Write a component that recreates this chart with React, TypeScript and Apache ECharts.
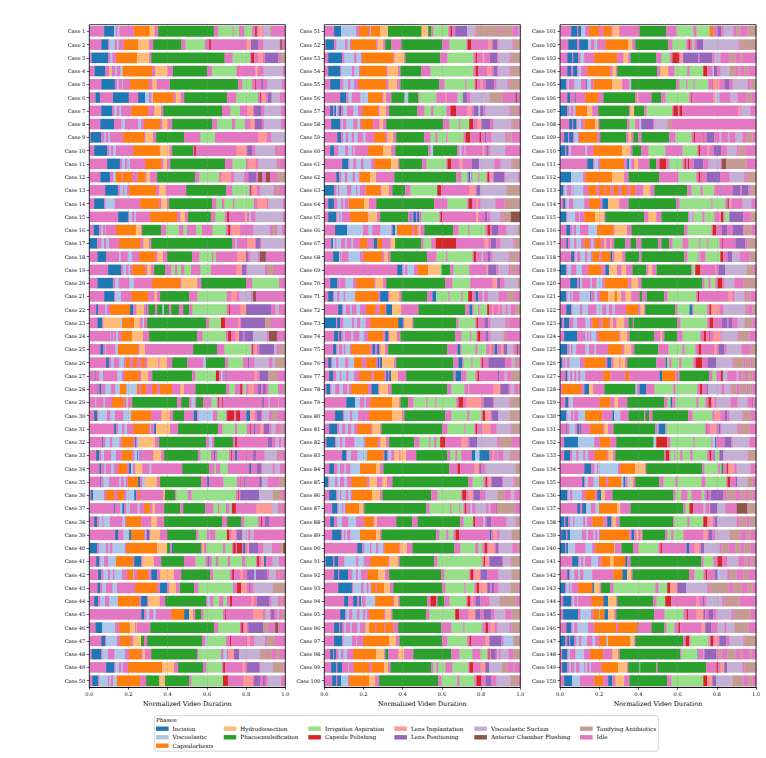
import React, { useEffect, useRef } from "react";
import * as echarts from "echarts";

// Phase codes used in the timeline strings below.
const phaseCodes = ["I", "V", "C", "H", "P", "A", "K", "L", "N", "S", "F", "T", "X"];
const phaseNames = [
  "Incision",
  "Viscoelastic",
  "Capsulorhexis",
  "Hydrodissection",
  "Phacoemulsification",
  "Irrigation Aspiration",
  "Capsule Polishing",
  "Lens Implantation",
  "Lens Positioning",
  "Viscoelastic Suction",
  "Anterior Chamber Flushing",
  "Tonifying Antibiotics",
  "Idle",
];
const phaseColors = [
  "#1f77b4", "#aec7e8", "#ff7f0e", "#ffbb78", "#2ca02c", "#98df8a", "#d62728",
  "#ff9896", "#9467bd", "#c5b0d5", "#8c564b", "#c49c94", "#e377c2",
];

// Each timeline: phase code followed by the phase's end point (% of the video).
const casesA = [
  "X7.5 I12.6 V13.4 X14.3 V15.3 X22.6 C30.8 H33.3 X35 P63.5 X65.6 A73 X73.5 A76.4 X79 A83 X84.5 K85.4 X86 L88.4 X88.8 S92.2 T93.2 X100",
  "X6 I9.5 X10 V13 X14 V15 X17.5 C25 H30.5 X32.5 P47 X49 A59 X61 K62 X80 L82.5 N86 X88.5 S97 X97.3 F98.3 X100",
  "X1 I9.5 X10.5 V11.7 X13.6 C24.3 H30.5 X31.5 P69 X73 A82 X82.5 K84 X86 L88.6 X89.6 N96.3 X97.3 T100",
  "X2.5 I8 X10 H11.5 X13 V14 X15.6 V17 C32 X33.5 H40 X42.5 P60 X62.4 A75 X76 K76.5 X84.7 H85.7 X88.8 S98.8 X100",
  "X6 I13 X14 V15 X16.5 V17 X20.7 C30.4 X32 H34.4 X41 P75.9 X77.9 A83 X84.5 K85 X87.6 N88.6 X90.6 S98.3 X100",
  "X3 I5.4 X12 I20.2 X24.8 I28.4 V30.4 X31.5 V32.5 C43 X44 H46.5 X48.3 P70.2 X74.8 A86 X87 K87.5 X88 L90 X91 N93 S97.3 X100",
  "X6 I11.6 X12.6 V14.1 X15.1 V16.2 X21.3 C30 X33 H36.6 X37.6 P67.7 X71.8 A76.9 X80.4 L83.5 X84 N87.6 X89.1 S97.8 X100",
  "X5.5 I12.6 X16.2 V18.2 X24.8 V26.4 X27.9 C36 X37 H40 X42.2 P62.6 X65 A72.8 X74.3 A79.4 X82 L84.5 N88 X89 S97.8 X100",
  "X0.5 I6 X7.5 V8.5 X9.5 V10.5 X17.2 C27.9 X28.4 H32.5 X34 P48.3 X56.5 A64.1 X86 L90.6 X92.7 S100",
  "X2.4 I9 X10 V11 X12 V13.6 X22.3 C36 H41 X42.2 P52.9 X53.4 K54.4 X74.8 L80 X80.5 N83 X84.5 S94.7 X96.3 T97.3 X100",
  "X9 I15.6 X16.6 V18.2 X19.2 V20.7 X28.4 C36.6 X37.6 H39.6 X41.2 P69.2 X72.8 A80 X81 L85 X86 S95.7 X96.3 T97.3 X100",
  "X5.5 I10.5 X12 V13.5 C16.5 X17 C21.8 X24.5 C28.6 X29 H31 X34.5 P53.9 X55.9 A66.2 X67.2 L72.3 X73.8 S78.9 X81 N85 X86 F88.1 X90 F92.2 X95.7 T100",
  "X8 I14.6 X15.6 V17.2 X17.7 V19.2 X20.2 C34 X35.5 H39 X49.3 P69.7 X72.8 A81.5 X82 K82.5 X83 L85.5 X87 S94.2 X95.2 T96.8 X100",
  "X2.4 I7.5 X8 V13 X25.9 C35.5 X36.6 H39.6 X40.6 P62.6 X64.6 A67.7 X68.7 A73.3 X73.8 A84 X85.5 L90.6 X91.1 S98.8 X100",
  "X14.6 I19.7 X20.2 V21.8 X22.8 V23.8 X31 C44.7 X46.3 H48.8 X50.3 P62 X64.1 A69.2 X70.2 K71.2 X79.4 H80.4 X81.5 V82.5 X84.5 S98.8 X100",
  "X2 I5 X6 V7 X8 V8.5 X13.6 C23.8 H26.4 X26.9 P36.6 X39 A45.7 X47.8 A49.8 X54.4 A57.5 X62.6 A69.7 X70.7 K71.8 X72.3 L76.9 X83.5 S92.2 X93.2 T95.2 X95.7 S98.3 X100",
  "I4 X6 V7.5 X8.5 V10 X15.1 C25.9 X27.4 H30.4 X31.5 P72.8 X74.3 V75.3 X80.4 L84.5 X84.9 N87 X87.5 S100",
  "X4 I8.5 X15 V16 X19.5 V21.8 X25.3 C33.5 X34.5 H37.6 X39.6 P52.4 X56 A62.6 X63.1 A64.6 X75.3 L79.9 N81 X82 S86 X87 F90 X100",
  "X9.5 I16.2 X17.2 V18.7 X19.7 V20.7 X21.8 C28.4 X29.4 H31.5 X33 P38.6 X41.7 A43.7 X44.7 A46.8 X48.3 A51.9 X56.5 A62 X74.8 L77.9 N80 X80.5 S89.6 X90.6 T94.2 X100",
  "X4 I12 X13 V15 X20.2 V22.8 X32 C46.3 X46.8 H55 X57 P80 X83 A96.8 X100",
  "X7.5 I12.6 X13.1 V16.2 X21.3 C30 X33 H34.5 X36 P50.9 X55 A70.2 X72.3 L75.3 X76.4 S82.5 X83.5 F85 X100",
  "X3.4 I4.4 X8 V9 X10.5 C20.7 I22.3 X23.8 H27.9 X29 I29.4 X30 P33.5 X34.5 P37.1 V38.1 P40.6 X41.7 P45.7 X47.8 P50.9 X52.4 A70.2 X71.2 K71.8 X76.9 L80 N92.7 X94.7 S96.8 X100",
  "X4 I6.5 X7 H15.6 V16.7 C22.8 H25.9 X26.9 V27.9 X29.4 P59.5 X61 A67.2 K69.2 X75.9 L76.9 X77.4 N89.6 T92.7 X100",
  "X10.5 V11 X12 V12.5 X13.5 V14.6 X16.2 C21.8 H27.4 X30.4 P55 X57.5 A69.7 X70.7 K72.3 X74.3 L76.4 N78.4 X79 N83.5 S90.6 X91.6 F95.7 X100",
  "X5.5 I7 X8 V8.5 X13.1 V14.6 C24.8 X25.3 H28.4 X52.9 P65.1 X68.7 A82.5 X83 K83.5 X84 L85.5 X86.6 N94.2 S95.7 X97 T100",
  "X8.5 I10 X11 V12.5 X15.1 V17.6 X18.5 C20.7 X22.3 C24.3 X26.4 C28.4 X29.5 H35.2 X35.7 H39.6 X42.2 P50 X58 V59.5 P69.2 X70.7 A78.4 X81 I81.5 X84 S91.7 X93.2 S94.7 T100",
  "X3 I3.4 X5 V7 X14.1 V16.7 X17.7 C25.3 X26.3 H30 X32 P52.4 X53.9 A64.6 K66.2 X67 V68 X69.5 I70 X84 L85.7 X86.7 N91.2 T96.3 X100",
  "X4 I4.4 X5 I6 X8 V11 X13 V15.6 C18.7 V24.3 C25.3 X26.3 C28.9 X32 C34.5 X36 C42.2 X46.3 H48.3 X54 P69.7 X71.3 A74.3 X76.9 K77.9 X78.5 A80 X81 L84 X86 N87.7 X88.5 N90 X91.3 A96.3 X98.8 T100",
  "X3 V3.5 X7 V8 X11.5 C17.2 X18.2 C18.7 V19.7 X21.8 P44.7 X46.8 P50.9 X51.9 V53.9 X54.4 P58 X62.1 A65.1 X65.6 K66.2 X67.7 K68.2 X88.1 N89.1 X91.2 S92.2 X96.3 S96.8 X100",
  "X2.4 I3.9 X4.4 V9 X10.5 V13.1 X17.2 V21.3 C31.5 X36.6 H41.2 X42.7 P48.3 X53.2 I55 X55.6 V63.1 X65.1 A69.7 X70.2 K73.8 X74.8 K76.9 X80 I82 L84.2 X85.5 N87.6 X88.1 S91.7 X93.2 T96.3 X100",
  "X12.6 I13.6 X14.6 V16.7 X17.7 V19.2 X22.3 C30.4 X31 V31.5 X33 I34 H41.2 X45.2 P65.6 X67.7 A74.3 X75.3 A80.4 X82 K82.5 X84 I84.5 X87 L89 N91.7 X92.7 S95 X96.8 T98.5 X100",
  "X6.5 I7 X8 V10.5 X11.5 V15.3 X16.3 C22.3 X23.3 I23.8 X24.3 V25.3 H33.5 X35.5 P59.5 X61 V62.6 X63.6 P73.3 X74.3 K75.3 X91 N93.2 X94.7 S96.8 X97.8 S99 X100",
  "X3.4 I5 X6 V7.5 X11 V13.6 X16.4 C21.8 X22.8 V24.3 I24.8 V25.3 X26 I26.5 X32.5 H36.6 X38.1 P55.4 X56.5 A62.1 X63.6 I64.1 X65.1 A71.3 X72.3 K72.8 X74.3 I75.3 X83.5 N85 X89.3 S95.7 X96.3 T97.8 X100",
  "X5 I6 X7.5 V8.5 X11 V12.5 X14.6 C19.2 X20.2 I21.3 V22.3 X23.3 H27 X30.6 V31.6 X47.3 P61 X63.6 A64.6 X66.6 A70.7 X81.5 I82.5 X85.5 N87.5 X88 S93.5 X94.5 S97.3 X100",
  "X5.5 I6 X7 V10 X15.1 V16.1 X17.5 V18.5 X19.5 C24.8 I25.8 X26.8 V28.4 H34.5 X36 P57 X60 I61 X68.2 A75.3 X77 K77.5 X79 I79.6 X86.6 N88 S91 X96.8 T100",
  "X0.8 I1.9 V7.5 X8.5 C12.6 X14.1 C17.7 X18.7 V22.8 I23.8 X24.8 C25.8 X37.6 H38.6 P43.7 X44.2 A50.3 X51.9 A74.8 X75.8 K76.2 X76.9 N86.6 S93.7 T98.3 X100",
  "X12.6 I13.1 X15.6 V16.7 I17.7 X18.7 V20.7 X24.5 V25.5 X27.9 C31 X32 H33.5 X38.1 P46.3 X47.8 P59 X63.1 A65.6 X66.1 A69.7 X71.2 A72.2 V72.7 K74.7 X85 L93.2 S96.3 X97.3 T98.3 X100",
  "X2.4 I3.9 X4.9 V6.6 X7 V10.5 X16.7 V18.2 X18.7 C26.4 X31.5 H34.5 X38.1 P67.7 X70.2 P77.4 X78.9 A86 X87.5 K88.1 X89.6 N91.7 X100",
  "X13.1 I14.6 X17.2 V20.2 I21.3 C27.9 X28.4 V28.9 X29.4 I30.4 X31 H36 X39.6 P54.4 X55.4 A60 X61 V61.5 X64.1 A70.2 K71.5 X72.5 L74.5 X75 N78 S81 X82 S84 X100",
  "I3.9 X4.9 V8.5 X9.5 V10.5 X11.6 V18.2 X18.7 C34.5 H39.6 P41.2 X42 I42.7 P57 X57.5 H58.5 X59.5 A68.2 X69.2 A72.8 X73.3 K74.7 X75.2 K77.9 X78.4 I79.4 X80.4 L81.5 N86 X88.5 S93.2 X97.3 T98.8 F100",
  "X3.4 I5 X5.5 V7.5 X9.5 V13.6 C22.3 X22.8 I26.4 X27 H33 X36.6 P48.3 X54 A59.4 X60.4 I60.9 X62.4 A64.6 X65.6 A70.7 X71.7 A77.9 X79.4 A85 X85.5 K86.6 X87.6 L89 I90.1 X93.2 S96.8 X100",
  "X4.4 I6 X7 V9.5 X10.5 V12 X12.6 V16.7 X19.2 C22.3 V22.8 X24.3 C30 X31.5 I34.5 X36 H43.2 X46.8 P61.6 X63 A71.8 X72.8 K73.8 X76.9 L78.4 X80.4 N84 V85 N90.6 X91.6 S95.2 X96.3 T97.3 X100",
  "X4 I5.4 X6.5 V8.5 X11.6 V14.1 X23.3 C34.5 X36 I39.6 X40.6 H44.2 X46 P53.4 X55.4 A73.3 X75.3 K77.4 L80.4 X81.4 N82.2 X83.7 S93.7 T100",
  "X2.4 I4.4 X5.4 V8 X10 V14.6 C25.3 X26.3 I29.4 X30 H36 X38.6 P59.5 X60 V61.5 X63.1 A66.2 X68.2 A70.2 X71.7 K72.8 X82.5 L84 X85.5 N91.7 X92.7 S96.3 X97.3 T98.8 X100",
  "X26.4 I27.9 X29 V30.6 X32.6 V34 X41.7 C48.3 I50.9 H52.9 X53.9 P57 X58 A68.2 X69.2 K69.7 X83.5 L88.6 X89.6 S92.2 X92.7 N94.2 X95.7 S96.8 X98.3 T100",
  "X3 I6.5 V13.1 X15.1 C20.7 H23.3 X23.8 H24.3 X31 P63.6 X65.6 A76.9 X77.4 K78.4 X79 L80.4 X81 N88.6 T91.2 X94.7 F96.3 X100",
  "X6 I8 X8.5 V14.1 X15.6 C21.3 X22.3 H26.4 P27.9 X29.4 P57.5 X59 V60 A69.7 X71.7 K72.3 X80.4 L82 X84 S89.6 X90.1 T94.7 X100",
  "X1 I6 X6.5 V9.5 X12.6 V18.2 X20.2 C26.4 X27 H28.4 X31.5 P54.9 X55.4 A67.2 X68.2 V70.2 X70.7 L73.8 N76.4 S87.1 T90.6 X91.1 T93.2 X95.2 T97.3 X100",
  "X8.5 I12.6 X13.1 V15.1 X16.1 V17.1 X19.7 C37.1 H43.2 X45.2 P58 X59.5 A67.7 X68.2 K69.2 X77.9 L79.4 X80.4 N86.6 X87.1 S93.7 T99.3 X100",
  "X1.4 I4.4 X4.9 V9.5 X10 V11 X12 V14.1 C25.9 X28.9 P35.5 H38.6 P50.9 X51.9 A68.2 K70.7 X78.4 L83.5 X84 N87.1 X88.5 N89.5 X90.8 S97.8 X100",
];

const casesB = [
  "X4.9 I8.5 V16.2 X17.7 C22.8 X23.3 V23.8 C28.4 H32.5 P49.4 H53 P54.5 X55.5 A63.2 X64.2 K65.2 X66.7 N72.9 S77 X77.5 T89.3 X90.3 T95.9 X99 S100",
  "X0.5 I4.9 X6 V10.6 X11.6 V13.1 X13.6 C26.4 X27 H30 X31 P34.1 X39.2 P60.1 X63.7 A72.4 X72.9 K75 X83.6 L85.2 X85.7 N88.2 X88.7 S95.9 X96.4 T100",
  "X1.9 I9 X10 V15.2 X16.2 V18.7 X19 C35.1 X35.6 H40.7 X41.2 P59.1 X62.7 A76 X77 K78 X80.6 L81.6 X84.2 N88.2 X88.7 S94.4 X94.9 T100",
  "X1.9 I8 X8.5 V14.1 X15.1 V17.7 X18.2 C31.5 X32 H37.6 X38.7 P49.4 X54 A76 X77 K78.5 X83.1 L85.2 X86.2 N88.2 X88.7 S94.4 X94.9 T100",
  "X2.9 I8 X9.5 V12.1 X13.1 V15.2 X17.2 C31.5 X32.5 H37.1 X38.7 P58.6 X61.2 A71.9 X72.4 A76.5 X77 K78 X79.5 L80.6 X82.1 N86.7 X87.7 S93.4 X94.4 T100",
  "X8 I11.1 X12.1 V14.1 X18.2 V22.3 C29.5 X30 H31.5 X34.1 P40.7 V42.8 P47.9 X48.4 A57.1 X61.7 L62.5 X67.8 V68.8 A70.7 N72.9 X74.4 S84.2 T90.8 X97.4 F98.5 X100",
  "X2.9 I4.4 X5 I6 V6.8 X7.5 I8.5 X9.5 V11.5 X14.7 V17.2 X19.2 C27.4 X28 H31.5 X33 P47.4 X50.9 A54.5 X55.5 A62.2 X64.2 K67.3 X72.9 L75 X76 N78.5 V79.5 N81.1 X82.1 S94.4 X94.9 T98.5 X100",
  "X3.4 I8 X8.5 V9.5 X11 V14.7 X16.7 V18.2 X18.7 C24.9 X28 H30 X31.5 P60.6 X63.7 A68.8 X69.3 A73.9 K76 X78 L80.1 N84.7 X86.2 S95.4 X96 T99 X100",
  "X6.5 I8.5 X9.5 V11 X12 V14 X15 V17 X19.5 V21 X25.4 C31 X32 H35.1 X36.6 P50.9 X54 A56.6 X57.6 A62.2 X62.7 A70.9 X71.9 K74.4 X79 K80.1 X81.6 N82.6 X85.2 S92.3 X93.3 T95.4 X100",
  "X2.9 I4.9 X7 V10.6 X12 V14 X14.7 V15.5 X22.3 C30 H34.1 X36.1 P53 X54 V55.5 P67.8 X68.8 V70 X71.4 V72 X80.6 L81.6 X82.6 N83.6 X84.5 S92.3 X100",
  "X9 I12.1 X12.6 V14.7 X16.2 V18.7 X19.7 V23.9 X25.4 C34.1 H37.6 X38.1 P49.9 X52 A62.2 X62.7 K64.7 X68.8 L70.4 X75 N79 S86.7 X89.8 S95.4 X95.9 T100",
  "X6 I7.5 X8.5 V10.5 X11.5 V14.5 X15.5 V17.5 X17.8 C23.3 H26.4 X35.6 P67.3 X69.8 A72.9 X73.4 I74.4 V74.9 X75.5 A78.5 X79 A82.6 X83.1 K84.2 X84.7 L85.7 X86.2 N91.8 X92.3 S98.9 X100",
  "I4.9 X6 V7 X7.5 V11.6 X13.6 V16.2 X16.7 V18.2 X21 C28.4 X29 H33 X34.6 P41.2 X43.8 A57.6 K59.6 X73.9 L77 X77.5 N79.6 S92.8 T100",
  "X1.9 I4.9 X6.5 V8.5 X9.5 V10.5 X12.3 C20.3 H22.8 X26.4 P56 X62.7 A72.9 X73.4 K75.5 X77.5 L78.5 X79.5 S87.2 X91.8 T100",
  "X1.9 I6 X6.5 V7.5 X8 V9 X13.1 C22.3 H26.9 X28.4 P42.8 X43.8 I44.3 X45.3 I46.8 X47.3 I48.4 X49.4 A58.6 X59.1 K60.1 X77.5 H78.5 X81.6 N83.1 X84.6 S89.8 X90.8 T94.9 F100",
  "X5.4 I11.6 V19.8 X22.3 V24.4 X28.4 V34.1 X34.6 I36.1 V37.1 C44.8 X45.8 C47.4 X48 H49 X50.9 P65.8 X68.3 A73.4 X73.9 A82.1 X83.1 K84.7 X85.2 N88.8 X92.8 S98.5 T100",
  "X3.4 I4.4 V5.5 X6 V8.5 X10.5 V11.5 X13.6 V14.7 X18.2 C21.8 X25 I26.9 C29.5 X33.6 H36.1 P49.4 X50.4 A54.5 X56.6 K67.3 X81.6 L83.6 X84.7 N87.7 X89.8 S96.4 X96.9 T100",
  "X4.4 I7.5 V8 X8.5 V9 X12.1 V18.2 X19.8 C29.5 X30.5 H32.5 X33.6 P52.5 X57.1 A62.2 X62.7 A75.5 X76 K77.5 X80 V81 X83.1 N84.7 X85.7 S93.9 X94.4 T99 X100",
  "X37.1 I39.7 X40.2 V41.2 X42.2 V45.8 X47.4 C53 H59.1 A59.6 P64.2 X65.8 A73.9 X82.6 L83.6 N87.7 X88.7 S93.9 X94.9 T98 X100",
  "X2.9 I6.5 X7.5 V8 X10.6 V14.7 X16.2 C25.4 X26 H30 X31.5 P61.7 X65.2 A74.4 X85.7 L88.2 N89.8 X91.8 S98.5 T100",
  "X1.9 I4.4 X5 V6.5 X7.5 V9.9 X10.5 V15.7 C27.4 X28.4 I32.5 X33 H38.2 X39.2 P52.5 X55 I57.1 A63.2 X63.7 A69.8 X70.3 A73.4 K75.5 X77 I78.5 X80.5 V81.5 X83.5 S88.8 X93.4 T96.9 X100",
  "X7 I9 X9.5 V11 X13 V14 X16.2 V18.2 X21.3 C26.2 X28 C31 X31.5 I34.6 H39.2 X47.9 P71.9 X73.9 I75.5 X76 A78.5 X79 A83.1 K84.2 X85.4 L86.4 X88.5 L89.5 X90.5 S92.5 X93.5 S95 X97.4 T100",
  "I6 X6.5 I8 X9.5 V14.1 X15.1 V16.7 X18.2 V21 X23.3 C37.6 I40.2 X40.7 H44.8 X45.3 P67.3 X68.3 A77 X77.5 K78.5 X81.6 N83.6 X84.7 S92.3 X93.3 T94.3 X100",
  "X4.9 I7 X7.5 I8.5 X9.5 V10.5 X13.6 V14.7 X17.7 V20.3 X22.3 C30 X31 I32.5 X33 H37.1 X38.7 P66.8 X69.8 A74.4 X74.9 A77.5 X78 K79.6 X82.1 N83.6 X84.7 S91.3 T92.8 X100",
  "X4.4 I6 X6.5 V7.5 X9 V10 X10.6 V13.1 X13.6 C23.3 X24.4 I25.9 X26.9 I27.9 X28.4 H31 X32.5 P62.7 X67.8 I69.3 X69.8 A77 X78 A82.6 X84.2 L85.2 K85.7 X86.7 I88.2 X90 L91.5 N93.4 S96.4 X98 F99 X100",
  "X1.9 I3.4 X3.9 V6 X7 V10.6 X12.1 V15.2 C19.3 X21.3 C26.4 X27 I27.9 X28.4 I29.5 H35.6 X36.6 P65.8 X68.3 I70.4 X70.9 A75 X75.5 A79.6 X80.1 K81.1 X83.6 N92.3 X95.4 S96.9 T98.9 X100",
  "X2.4 I4.4 X5.9 V7.9 X8.5 V11.1 X12.1 V15.2 X17.7 C23.9 X25 C30.5 X31.5 I32.5 X33 I34.1 H37.6 X41.7 P65.8 X66.8 I69.8 X72.4 A77 X78 K79 X88.2 N89.3 X91.8 S93.3 X95.4 T100",
  "X0.9 I2.9 X3.4 V5.5 X7.5 V9.5 X11.6 V12.6 X13.6 C22.3 X23.9 I27.4 X27.9 H32.5 X34.1 P62.7 X64.7 A71.4 X73.4 A73.9 X86.2 L89.8 N94 X94.9 S96.9 X99 T100",
  "X11.1 I15.7 V18.2 X20.2 V21.2 X23.3 C34.6 H38.2 X38.7 P42.8 X45.3 A52 X52.5 A56.6 X57.1 A67.3 X68.3 K70.9 X72.4 L80.1 X81.1 N86.2 X86.7 S94.4 X94.9 T100",
  "X5.4 I9.5 X10 V13.1 X14.1 V17.2 X22.8 C34.6 H39.7 X40.7 P61.7 X64.7 A72.9 X73.9 A80.1 X80.6 K82.1 L84.7 X85.2 N88.8 S94.4 T100",
  "X2.4 I6.5 X7.5 V9 X10.5 V12.1 X13.6 V15.2 X16.7 C23.9 X24.4 H28.4 X29 P60.1 X62.7 A71.4 X71.9 A76.5 X77 K78 X80.6 L84.7 X87.7 S94.9 X95.4 T100",
  "X0.9 I5.4 X6 V8 X9 V10.6 X15.2 V20.3 X20.8 C27.4 X28.4 H31.5 X33 P45.8 X48.4 A53.5 X54 A56 X57 A59.1 K61.7 X69.8 L72.9 X73.9 N78 S88.2 X89.2 T95.6 X100",
  "X9 I11.1 X11.6 V13.6 X16.7 V21.8 C30 X30.5 I32 X32.5 V34.1 X35.6 H38.2 X38.7 H41.7 X46.8 P62.7 X64.2 A66.8 X67.8 A69.8 X75 I77 V79 I84.2 X85.7 L86.7 X88 V88.5 X91.3 S94.4 T97.4 X98.5 T100",
  "X2.4 I4.9 X6.5 V8 X10 V11 X13.1 V18.2 C26.4 H28.4 X30 P63.7 X67.8 K69.3 X76.5 L79 N80 X82 S97.4 T100",
  "I1.9 X2.4 V5.5 X6.5 V8 X10 V11.6 X13.6 C21.8 X22.8 H26.9 X29.5 H32 X34.6 P73.4 X75.5 A81.1 X82.1 K83.1 X83.6 L84.7 X85.2 N90.8 X91.3 S96.4 X97 T100",
  "X2.4 I6 X6.5 V8 X8.5 V11 X12 V13.5 X14.1 C24.4 H28.4 X29.5 P54.5 X57.6 A69.8 X70.3 K72.4 X73.4 L75.5 X76 N79.4 X82 S88.2 T91.8 X94.9 S96.9 X100",
  "X3.9 I6.5 X7 V9 X9.5 V10.5 X10.9 C17.7 H19.8 X20.3 P52 X53.5 A64.2 X64.7 A68.8 X69.3 A70.9 X71.4 K72.4 X74.4 V75.4 X77 S82.6 X83.6 S84.7 X87.7 F88.2 T96.9 X100",
  "X2.9 I4.9 X6.5 V9 X12 V16.2 X20.3 C24.9 X25.4 H26.9 X36.6 P44.8 X47.4 P69.3 X70.9 A76 K77 X81.1 V82 X82.6 N85.2 X92.8 S97.4 X98 T100",
  "X3.9 I8.5 X9 V10 X10.6 V11.6 X13.1 V18.2 C26.4 H28.4 X29 P57.1 X58.6 A62.2 X63.2 A65.8 X66.8 K68.8 X84.2 I85.2 X86.2 L88.2 X89.3 S95.4 T100",
  "X16.7 I19.3 X20.3 V23.3 X23.9 V26.4 X27.4 V30 X30.5 C38.2 X38.7 H42.2 X44.8 P66.3 X69.3 A77 X78.5 A80.6 X81.6 K83.1 X83.6 L86.7 X87.2 N88.6 X89 S95.9 X98.5 T100",
  "X0.5 I4.4 X5 I7 X10 V16.2 X17.2 V20.3 X23.3 C32.5 X33 H37.6 X38.2 P56 X57.6 A80.6 X81.1 K82.1 L84.2 N90.8 X91.3 S94.9 X95.4 T100",
  "X4.9 I7 X7.5 I12.1 X14.1 V16.2 X17 V18.7 X21.8 C27.4 H31 X33 P59.6 X61.2 A73.9 X74.4 K76 X76.5 L79.6 N83.1 X88.8 S95.4 T100",
  "X7 I14.1 X14.6 V18.7 X19.7 V21.5 X22.5 V23.5 X23.9 C26.2 X26.7 C30.5 H33.5 X35.1 P60.1 X61.7 A71.4 X71.9 A76.5 X77.5 K79 L83.1 N84.7 X85.2 N86.7 X88.8 S94.9 T99 X100",
  "X10 I12.1 X14.6 I16.7 X17.7 I18.7 V19.2 X21 V25.9 C35.1 X35.6 H37.6 X38.2 P52.5 X54 K57.1 X57.6 P61.2 X63.7 A72.4 X72.9 K74.5 X75 L76 X77 N79.6 X84.2 S89.3 T98 X100",
  "X8 I10.6 X11.1 V12.6 X14.1 V16.7 X17.7 V19.8 X20.8 V21.8 X22.8 C30.5 X31 H34.1 X34.6 P52 X53.5 A66.8 K68.8 X73.4 L77 N79.6 X81.1 N85.2 X86.7 S92.3 X95.4 T100",
  "X4.9 I7.5 X8 I9 X10 V11 X13 V14 X16.7 V18.2 X20.8 H22.8 C25.9 X26.4 C30.5 X31 C35.1 X37.6 P59.6 X64.7 A70.9 X71.4 A80.6 X82.1 K83.6 X84.7 L86.7 X88.2 S94.4 X95.4 T100",
  "X4.9 I9 X9.5 V14.1 X16.2 V16.7 X19.8 C33 H36.6 X38.2 P60.1 X62.7 A72.9 X73.9 K75 X82.1 L84.2 N90.3 X91.3 V96.4 T100",
  "X2.9 I4.4 X4.9 I6 X7 V8.5 X9.5 V11.6 X14.7 C26.4 H30.5 X31 P32.5 X37.6 H40.7 X45.3 P64.7 X68.8 A75.5 X79.6 A83.1 X83.6 K84.3 X84.8 N87.4 X88.2 V89 X89.8 S93.9 X96.4 T100",
  "X3.4 I6 X6.5 I9 X12.1 V12.6 X15 C22.8 X23.9 C30.5 H32.5 X33.6 P54.5 X55.5 A57.1 X58 A61.7 X65.2 A73.4 X73.9 K76 X79.6 L82.1 N84.2 S90.3 T93.4 X96.4 T97 X100",
  "X3.9 I6 X6.5 I8.5 V12.1 X12.6 C22.8 H25.9 X27.9 P58.1 X59.6 A67.8 X68.8 A76.5 X77.5 K80.1 X82.1 N85.2 X87.7 S94.9 T99 X100",
];

const casesC = [
  "X5.6 I8.7 X9.2 I10.7 V12.8 X14.8 C19.9 X22 C26.1 X26.6 H30.2 X40.4 P54.2 X59.3 A68 X69.5 A76.1 C78.2 X80.2 N82.3 X83.3 S88.4 X90 T92 X95.6 T100",
  "X4.1 I8.7 X9.7 I14.3 V15.8 X17.4 V18.9 X23 C34.8 H36.8 X38.3 P55.2 X57.2 A64.4 X65.4 K66.3 X67.5 A68.5 X69.5 N73.1 S91 X91.5 T100",
  "X3.6 I6.1 X6.6 I9.2 X10.2 V12.3 X17.4 C29.1 X32.2 H34.8 X35.8 P49.1 X51.6 A56.2 X57.2 K60.8 X61.3 L62.8 N70.5 X71 N77.7 X78.7 S81.8 X86.4 T89.4 X92 T93 X100",
  "X3.6 I5.6 X6.6 I8.7 X9.2 V10.7 X13.8 C25.6 X26.6 H28.6 X29.1 P49.6 X51.1 H55.2 X58.3 A64.9 X65.9 A73.1 K75.1 X77.7 V78.5 N80.2 X81.8 S86.4 T89.4 X91 T92 X94 T96 X100",
  "I3.1 X3.6 V4.6 X7.2 V10.7 X13.3 I13.8 V15.8 X17 C26.6 H31.7 X35.3 V36.3 P59.3 X60.8 A64.4 X64.9 A68 X68.5 A75.6 X77.7 K78.2 L81.3 X83.8 N86.4 X88 S95.6 X97.1 T100",
  "X3.6 I5.1 X7.7 I8.2 X12.8 C19.4 X22 P38.3 X39.3 H40 X46.5 P51.6 X53.7 A65.9 X66.9 K67.5 X78.2 L79.2 V81.3 X86.9 S90.5 X95.1 T97.6 X100",
  "I3.6 X4.6 V5.6 X6.6 V7.7 X7.9 C13.8 H16.4 X19.4 P35.3 X35.8 H37.8 P42.9 X44 A57.2 X57.7 K60.3 X60.8 K62.4 X91 L92 X92.5 S97.1 X100",
  "X4.6 I6.1 X6.6 I8.2 X8.7 V10.7 X12.3 C17.9 H19.4 X19.9 P34.2 X35.3 A38.3 X40.4 V41.4 N47.5 X48 S54.7 T56.7 X100",
  "X2 I4.1 X4.6 I6.6 X7.2 V9.2 X9.7 C18.9 X20.4 P33.7 X34.7 H36.3 X37.3 P39.9 X41.4 P55.7 X58.8 A67 X68 K69 X73.1 K73.6 X74.6 N78.7 X81.3 S82.5 X85.5 S86.5 X89.4 S93 X95 T98.1 X100",
  "I2.6 X3.1 I4.1 X4.6 V5.6 X12.8 V13.8 X16.9 C31.7 H35.8 X36.8 P41.4 X45 A53.7 X62.4 A70 X70.5 K71.6 X75.1 L76.1 X78.2 N82.3 X85 S90 X91 T94.5 X100",
  "X13.8 I16.9 X17.4 V19.4 X20.4 C32.7 X34.2 I35.3 V36.3 X37.8 H39.9 X45.5 P49.1 X50.6 K54.2 X55.7 A62.4 X63.4 K64.4 X65 K65.9 X68 N73.1 X75.6 S81.8 X82.3 F84.8 T95.1 X100",
  "I5.6 V11.8 X12.8 C26.6 H32.7 X34.8 P50.6 X60.3 A69.5 X70.5 K71.6 X72.1 K72.6 X74.6 N81.8 X86.4 S94 X95 T100",
  "I1.5 X2 V3.6 X5.6 V6.5 X6.8 V11.8 X14.3 C18.4 X19.9 C22.8 X23.3 C25.6 X27.1 C29.6 X31.2 C34.2 X35.8 C38.3 X42.4 H46 X48 P64.9 X67 A71.6 X72.6 A78.7 X81.8 I82.3 X87.9 N92 X92.5 N96.1 X97.1 T100",
  "X1.5 I2.6 X3.1 V4.6 X6.6 V12.3 X14.8 C20.4 X21.5 I24.5 H30.2 X34.8 P59.3 X60.8 A77.2 X77.7 A84.3 X85.3 K85.9 I86.4 L87.4 X93 S97.6 X100",
  "I3.1 X3.6 V7.7 X9.7 V10.2 X12.3 C17.9 H22.5 X23 P42.9 X45 H49.1 X51.6 P65.4 X66 V67.5 X68 A72.6 X73.6 A78.7 X81.3 L82 K83.3 X83.8 A86.4 N93.5 X97.1 T100",
  "X3.1 I5.1 X6.1 V7 X8 V10.2 X14.3 V18.9 C27.1 X27.6 H34.2 X36.3 P63.4 X64.9 A77.2 X77.7 K79.7 X82.3 N85.3 X87.9 N93.5 X94 T97.6 X100",
  "X3.1 I4.1 X5.1 V7.2 X8.2 V10.7 X12.3 C14.8 X15.8 V17 X17.9 C21 X22.5 H23.5 X25.5 H26.2 X27.5 P33.2 X35.8 P38.8 X41.4 P50.1 X51.6 P55.7 X57.2 A62.4 X65.4 A71 X71.5 A75.1 X75.6 A81.3 X82.5 K83 X89.4 N94.5 X95.6 T100",
  "X5.6 I7.2 X7.7 V8.7 X10.2 V12.8 X13.8 V15.7 X16.4 C20 X21 C25.6 I26.6 X27.6 H31.7 X33.2 P40.4 X41.4 P63.4 X64.9 A70.5 X71 A71.5 X74.1 A81.8 K83.3 X85.3 N87.9 S91.5 X96.6 T100",
  "I3.1 X3.6 V5.6 X8.2 V11.2 X14.3 C21 X23 I25 H29.1 X31.2 H33.7 X36.8 P44 X45 H47 X49.1 P66.9 X67.5 A69 K71.6 X79.2 L79.7 X80.7 N84.3 S95.1 T98.6 X100",
  "X5.1 I8.7 X9.7 I10.2 V11.2 X15.3 V16.3 X18.4 V21.5 X22.6 C34.8 X36.3 H39.9 X41.4 P72.6 X73.6 A75.6 X76.7 A79.2 X80.2 K82.8 X83.8 S88.9 X93.5 T100",
  "I3.1 X3.6 V5.1 X5.6 V6.5 X9.7 V15.3 I15.8 X17.4 V18.9 X20.4 C24.5 H27.6 C29.1 H31.2 X33.2 H36.3 X40.4 P41.9 X44 P53.2 X54.7 A69.5 X70 K71 X85.9 L87.9 X88.9 S94 X95 T97.1 X100",
  "X3.1 I5.6 X6.1 V10.2 X11.2 V14.3 X18.4 V21.5 X23.5 V25 X26.6 V28 X33.7 C39.9 X40.9 H42.9 X43.4 P58.8 X59.8 A65.9 I67.5 X68 A75.1 X76.1 K77.2 L81.3 X83.3 S94.5 X95 T96 X98.1 T100",
  "I1 X2 I4.6 X6.6 V8.7 X12.8 V15.3 X16.4 C19.9 X21.5 C25 X25.5 H27 X28.6 H32.7 X34.8 P37.1 X37.6 P59.8 X61.3 A75.1 X76.1 K78.2 X82.3 N85.3 X85.8 N87.9 X90.5 S94 T98.1 X100",
  "X2 I8.7 X12.8 V13.8 X14.5 V15.3 X15.8 V18.4 X19.4 C30.2 X30.7 H34.2 X35.3 P48 X51.1 H52.1 X53.1 P59.8 X62.4 A71.6 X73.1 K74.6 X76.1 K76.7 X78.2 L81.8 X82.3 S90.5 X91 T96.6 X100",
  "I3.6 X4.6 V5.6 X6.1 V8.2 X12.8 V14.8 X17.4 V18.4 X24.5 C31.7 X32.7 H36.3 X37.8 P50.1 X55.2 A62.4 X63.4 A69 X70.5 K72.1 X78.7 L80.2 X80.7 N83.8 X84.8 S92.5 X97.1 T100",
  "I1 X1.5 V2 X2.6 V3.6 X4.6 V10.2 X12.3 C23 X24 I26.1 X27.1 H30.2 X30.7 H33.2 X34.2 P49.1 X53.7 I54.7 A55.7 X56.7 A60.8 X61.8 A68 X69 K72.6 X75.1 N79.7 S87.9 X88.4 T93.5 X94.5 T97.1 X98 T100",
  "X2.6 I3.6 X4.1 V5.1 X6.1 V7.2 X8.2 V9.2 X10.2 V12.8 X22 C25.6 X33.2 C35.3 X50.6 I52.1 C58.8 X60.8 P76.1 X77.7 A79.7 X81.8 K82.8 I83.3 S85.3 X90 S91 X92.5 T94 X95.4 T98.1 X100",
  "X1 C10.7 X12.3 I14.8 H16.9 X22.5 P38.3 V39.3 X40.4 I44 X48 A57.8 X58.8 A70 X71.1 K72.6 X74.6 N75.6 S82.3 X83.8 S86.9 X87.4 T90 X91.5 T95.1 X96 T98.1 X100",
  "X2.6 I4.1 X4.6 V6.6 X20 C25.6 X27.6 H29.6 X34.2 P53.2 X54.7 A56.2 I57.2 X58.8 A69.5 X70.5 A74.1 X75.6 K77.1 X77.7 L78.7 X79.7 S86.9 X90.5 S95.6 X98 N98.5 X100",
  "I3.1 X3.6 V5.6 X6.6 V7.2 X9.2 V12.8 C21.5 X26.6 I27.6 V30.7 X34.8 P42.9 X43.4 P45.5 X47 P65.4 X67.5 A77.7 X78.7 L81.8 X83.8 N85.3 X86.4 S93 X93.5 T97.1 X100",
  "X3.1 I3.6 X4.6 V7.7 X8.7 I9.7 X10.2 I10.7 X15.3 C22 X22.5 H24.5 X27.1 P48.6 X49.6 V50.1 I53.7 X54.2 A74.1 X74.6 K75 X76.7 L79.7 X80.7 N81.8 X82.3 S90.5 X91.5 T96.6 X100",
  "X2 I9.2 V17.4 X20.4 C25.6 X28.6 P47.5 V49.1 K54.7 X56.2 A68 X68.5 A77.2 X77.7 V79 I79.7 X83.8 N87.4 X88 S96.6 X100",
  "X2 I5.1 X6.1 V8.2 X9.2 V11.8 X12.8 V14.3 X17.4 C24 X24.5 H27.1 X28.1 P53.2 X53.7 K55.7 X56.2 A58.3 X58.8 A61.3 X62.4 A66.4 X67.5 A75.1 X76.1 K77.2 X78.7 I79.2 A81.3 N83.3 S95.6 X96.1 T100",
  "X12.3 I15.8 X17.4 V18.9 X19.4 V29.6 X30.6 C38.3 H43.4 X43.9 P72.6 X73.6 A80.7 X81.7 A82.2 P83.2 X85 K85.9 L88.9 X90 S97.1 X100",
  "X11.2 I12.3 X12.8 V14.3 X16.9 V19.9 C23.5 X24.5 C31.2 V32.2 I33.2 X34.2 V35.8 H37.3 X38.3 P50.6 X52.6 A58.8 X59.8 A72.1 X74.1 A84.8 X85.3 K86.9 X89.4 N90.5 S95.6 T98.1 X100",
  "I3.6 X4.1 V5.1 X6.1 V11.2 X12.8 C17.9 X18.9 I21 H23 X26.6 P57.8 X58.8 A61.8 X64.9 A67 X72.1 A73.6 X74.6 N75.8 X76.8 N83.3 X84.8 T89.4 X92 T94.5 X96 T98.1 X100",
  "X8.7 I10.2 X11.2 I13.3 V15.8 X17.9 V19.9 C29.1 H30.7 X35.8 P62.9 X63.9 A66 K68 X73.1 V74.1 X76.1 L76.6 N80.2 S84.3 X89.9 F95.6 T100",
  "I2 X2.6 I4.1 X5.1 V6.6 X7.2 V11.8 X12.8 V13.8 X16.4 C22 X24 I26.1 X26.6 H28.6 X30.2 P57.8 X58.3 A64.9 X65.9 A73.1 K75.1 X75.6 L77.7 X78.7 N80.2 S90 X91.5 T95.1 X96.6 T100",
  "X0.5 I3.1 X3.6 I5.1 V11.2 X13.3 V14.3 X16.9 V17.9 X18.9 V19.9 X20.4 C35.3 X36.3 I37.8 X38.8 H40 X41 H41.5 X41.9 P53.7 X54.7 A56.7 X57.7 A62.9 X73.1 L75.1 X75.6 N77.7 X79.2 S86.4 T92 X95.1 T97.1 X100",
  "I2.6 X3.1 I4.1 V7.7 X12.8 V16.4 X17.9 C27.6 H28 X31.2 P37.3 X39.9 A50.1 X51.1 K52.1 X64.4 I65.9 X68.5 L71 X71.6 N73.6 S81.3 X82.3 T85.9 X89.4 T92 X94 T97.1 X100",
  "X6.1 I9.2 X9.7 V10.7 X11.8 V12.8 X15.8 V19.4 X21 C25.6 H27.1 C33.2 I34.2 X35.8 P72.1 X73.1 A78.2 X80.2 K82.8 X85.3 S91 X94 T95.6 X97.1 T98.8 X100",
  "X3.6 I4.6 X5.1 V7.2 X9.2 V10.2 X11.8 V16.4 X27.1 C31.7 I34.2 H36.3 X36.8 P65.9 X68.5 A73.1 X74.1 K75.1 X78.7 N80.2 V81.3 S85.3 X86.3 T90 X93.5 T96 X100",
  "I2.6 X3.1 V4.6 X5.1 V6.1 X9.2 C16.4 I17.4 H20.4 X20.9 P25.6 X27.1 A48.6 X50.1 A54.7 K56.2 L59.8 N64.4 S75.1 X76.1 T85.9 X88.4 T92.5 X95.6 T98.1 X100",
  "X1.5 I5.6 X6.1 V7.2 X8.7 V9.2 X15.8 C22 I24.5 H28.6 X29.1 P47.5 X49.1 A53.7 K56.7 X69.5 L71 X72.6 N73.6 X74.6 S82.8 X83.8 T91.5 X100",
  "X1.5 I9.2 X10.2 V15.8 X16.9 C19.9 V20.4 C22.5 I24.5 H27.6 X28.6 P48 X53.2 A62.9 X64.4 K65.4 X69.5 L73.1 N74.1 X75.6 N78.2 X79.7 S87.4 X88.4 T97.1 X100",
  "X3.1 I5.6 X6.1 V7.2 X8.7 V14.3 X17.4 C28.6 X29.6 C39.4 I39.9 X46.5 P53.2 X54.2 A58.3 X60.3 K61.3 X72.1 L74.1 N77.2 X80.2 S83.8 X84.8 S88.9 T96.1 X100",
  "I2.6 X3.6 I4.6 X5.1 I7.2 X8.2 V9.7 X10.7 V13.8 X16.4 V17.9 X19.9 C23.5 V24.5 C35.8 H37.8 X38.3 P62.9 X63.9 K65.9 X66.4 A75.6 X76.1 V76.7 K78.2 X78.7 L80.7 X81.2 N84.8 X86.4 S93.5 X94 T100",
  "X1 I3.6 X4.1 V5.1 X7.7 V12.3 X15.3 C22 X26.6 H29.6 X30.2 P61.3 X61.8 A70 I70.5 X73.1 V73.6 N79.7 X80.7 T82.3 X85.3 T89.4 X92 T93 X96.6 T97.6 X100",
  "X1 I3.6 X4.6 V5.6 X7.2 V8.2 X9.7 V12.3 X12.8 V13.8 X14.8 V15.8 X21 C29.6 H34.2 X34.7 P40.4 V40.9 P49.1 X49.6 P74.6 X79.7 K80.7 X81.7 L83.8 N85.3 S93 X94 T99.7 X100",
  "X2 I6.1 V10.2 X17.4 C22 X24.5 I26.6 X28.1 H32.7 X35.3 P54.7 X56.7 A73.1 K75.1 L77.7 N79.7 S87.9 T93.5 X96 T98.1 X100",
];

const panelCases = [casesA, casesB, casesC];
const panelFirstCase = [1, 51, 101];
const xAxisTitle = "Normalized Video Duration";
const legendTitle = "Phases:";

// Legend columns (column-major, 6 columns) as indices into phaseNames.
const legendColumns = [[0, 1, 2], [3, 4], [5, 6], [7, 8], [9, 10], [11, 12]];

const FONT = "'DejaVu Serif', 'Liberation Serif', serif";

// Panel placement (px) within the 766 x 758 canvas.
const panelLeft = [89.3, 324.3, 560];
const panelWidth = 196;
const panelTop = 24.7;
const panelHeight = 662.6;

function parseTimeline(s: string) {
  const segs: { phase: number; start: number; end: number }[] = [];
  let prev = 0;
  for (const tok of s.trim().split(/\s+/)) {
    const phase = phaseCodes.indexOf(tok[0]);
    const end = parseFloat(tok.slice(1));
    if (phase < 0 || !(end > prev)) continue;
    segs.push({ phase, start: prev / 100, end: end / 100 });
    prev = end;
  }
  return segs;
}

function buildOption() {
  const grids: any[] = [];
  const xAxes: any[] = [];
  const yAxes: any[] = [];
  const series: any[] = [];

  panelCases.forEach((cases, p) => {
    const labels = cases.map((_, i) => `Case ${panelFirstCase[p] + i}`);
    grids.push({
      left: panelLeft[p],
      top: panelTop,
      width: panelWidth,
      height: panelHeight,
      show: true,
      z: 10,
      backgroundColor: "transparent",
      borderColor: "#000",
      borderWidth: 0.8,
    });
    xAxes.push({
      type: "value",
      gridIndex: p,
      min: 0,
      max: 1,
      interval: 0.2,
      z: 5,
      name: xAxisTitle,
      nameLocation: "middle",
      nameGap: 12.5,
      nameTextStyle: { fontFamily: FONT, fontSize: 6.4, color: "#000" },
      axisLine: { show: true, lineStyle: { color: "#000", width: 0.8 } },
      axisTick: { show: true, length: 2.5, lineStyle: { color: "#000", width: 0.6 } },
      axisLabel: {
        fontFamily: FONT,
        fontSize: 5.2,
        color: "#000",
        margin: 4,
        formatter: (v: number) => v.toFixed(1),
      },
      splitLine: {
        show: true,
        lineStyle: { color: "rgba(150,150,150,0.45)", width: 0.8, type: [2.5, 2] },
      },
    });
    yAxes.push({
      type: "category",
      gridIndex: p,
      data: labels,
      inverse: true,
      boundaryGap: true,
      axisLine: { show: false },
      axisTick: { show: true, alignWithLabel: true, length: 2.5, lineStyle: { color: "#000", width: 0.6 } },
      axisLabel: { interval: 0, fontFamily: FONT, fontSize: 5.1, color: "#000", margin: 4 },
      splitLine: { show: false },
    });

    const perPhase: number[][][] = phaseNames.map(() => []);
    cases.forEach((str, row) => {
      parseTimeline(str).forEach((seg) => {
        perPhase[seg.phase].push([seg.start, seg.end, row]);
      });
    });

    perPhase.forEach((data, k) => {
      const color = phaseColors[k];
      series.push({
        type: "custom",
        name: phaseNames[k],
        xAxisIndex: p,
        yAxisIndex: p,
        z: 2,
        encode: { x: [0, 1], y: 2 },
        data,
        renderItem: (_params: any, api: any) => {
          const row = api.value(2);
          const a = api.coord([api.value(0), row]);
          const b = api.coord([api.value(1), row]);
          const h = api.size([0, 1])[1] * 0.8;
          return {
            type: "rect",
            shape: { x: a[0], y: a[1] - h / 2, width: b[0] - a[0] + 0.3, height: h },
            style: { fill: color },
          };
        },
      });
    });
  });

  // Legend box beneath the panels.
  const colIconX = [156, 223.7, 308.3, 394.3, 474.3, 580];
  const rowY = [728.7, 737.3, 745.7];
  const legendChildren: any[] = [
    {
      type: "rect",
      shape: { x: 154.3, y: 715.7, width: 504, height: 35.5, r: 2 },
      style: { fill: "#fff", stroke: "#cccccc", lineWidth: 0.8 },
    },
    {
      type: "text",
      x: 156,
      y: 719.8,
      style: { text: legendTitle, fontFamily: FONT, fontSize: 5.6, fill: "#000", verticalAlign: "middle", align: "left" },
    },
  ];
  legendColumns.forEach((col, c) => {
    col.forEach((k, r) => {
      legendChildren.push({
        type: "rect",
        shape: { x: colIconX[c], y: rowY[r] - 2.2, width: 12.6, height: 4.4 },
        style: { fill: phaseColors[k] },
      });
      legendChildren.push({
        type: "text",
        x: colIconX[c] + 16.6,
        y: rowY[r],
        style: {
          text: phaseNames[k],
          fontFamily: FONT,
          fontSize: 5.7,
          fill: "#000",
          verticalAlign: "middle",
          align: "left",
        },
      });
    });
  });

  return {
    animation: false,
    backgroundColor: "#fff",
    tooltip: { show: false },
    grid: grids,
    xAxis: xAxes,
    yAxis: yAxes,
    series,
    graphic: [{ type: "group", z: 20, children: legendChildren }],
  };
}

export default function App() {
  const ref = useRef<HTMLDivElement>(null);
  useEffect(() => {
    if (!ref.current) return;
    const chart = echarts.init(ref.current, undefined, { renderer: "svg" });
    chart.setOption(buildOption() as any);
    return () => chart.dispose();
  }, []);
  return (
    <div
      ref={ref}
      style={{ position: "absolute", left: 0, top: 0, width: 766, height: 758, background: "#fff" }}
    />
  );
}
